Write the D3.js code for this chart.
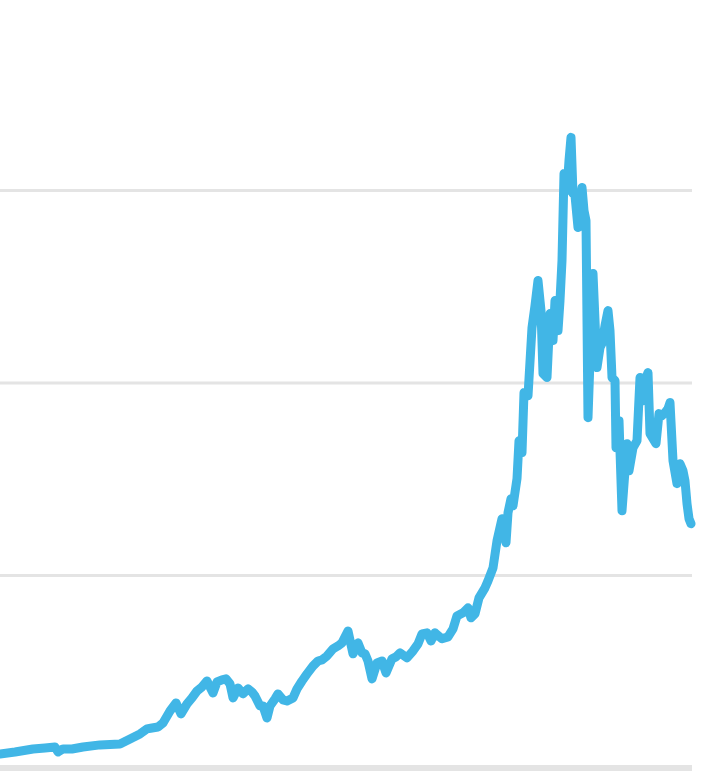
<!DOCTYPE html>
<html>
<head>
<meta charset="utf-8">
<script src="https://cdn.jsdelivr.net/npm/d3@7"></script>
<style>
  html, body { margin: 0; padding: 0; background: #ffffff; }
  svg { display: block; }
</style>
</head>
<body>
<div id="chart"></div>
<script>
// time (months from start of series)
const months = [0,7.5,16.5,22.5,27.5,29,31.5,36,41.5,50,60,65,70,73.5,76,79,81.5,85,88,90.5,93.5,96,98.5,101,103.5,106.5,108.5,111,113,115,116.5,119,121.5,124,126,127.5,130,131.5,133.5,135,137.5,139,141.5,143.5,146.5,148.5,151,153.5,156.5,159,161,163.5,166.5,169,171,174,176.5,179,181,182.5,184,186,188.5,191,193,196,198,200,203.5,206.5,209,211,213.5,215.5,217.5,221,224,226.5,228.5,231.5,234,235.5,237.5,239.5,242.5,244,246.5,248.5,251,253,254,255.5,256.5,258.5,259.5,261,262,264,266,267.5,269,270.5,271.5,273.5,275,276.5,277.5,279,280,281,282,283.5,284.5,285.5,286.5,287.5,289,290,291,292,293,294,296.5,298.5,300,301,302.5,304,305,306,307.5,308,309.5,311,312.5,313.5,314.5,316.5,318.5,320,321.5,322.5,324,325,326.5,328,329.5,331,332.5,334,335,336.5,338.5,340,341.5,342.5,343.5,344.5,345.5];
// series values
const values = [7.3,8.3,9.9,10.4,10.9,8.3,9.9,9.9,10.9,12.0,12.5,15.1,17.7,20.3,20.8,21.3,23.4,29.6,33.8,28.1,33.3,36.4,40.0,42.1,45.2,39.0,44.7,45.8,46.3,43.7,36.4,41.6,38.5,41.1,39.5,37.4,32.2,32.2,26.0,32.2,35.9,38.5,35.4,34.8,36.4,41.1,45.2,48.9,53.0,55.6,56.2,58.2,61.9,63.4,65.0,71.2,59.3,65.0,59.8,59.3,55.6,46.3,54.6,55.6,49.4,56.7,57.7,59.8,57.2,60.8,64.5,69.7,70.2,66.0,70.2,67.1,68.1,72.3,79.0,80.6,83.2,78.0,80.1,88.4,93.6,97.2,104.0,118.0,129.5,117.0,132.6,139.9,136.2,150.3,170.0,163.8,195.0,193.4,228.8,240.2,253.2,237.6,204.9,202.8,236.1,222.0,242.8,227.2,242.8,263.6,308.8,300.0,315.6,327.6,298.4,297.4,280.8,292.2,301.6,289.6,284.4,182.0,256.9,208.0,218.4,220.5,229.8,237.6,227.2,202.8,201.2,166.4,180.4,133.6,154.4,168.5,154.4,166.4,170.0,202.8,190.8,201.2,205.4,173.7,171.1,168.5,184.1,183.0,184.6,186.7,189.8,159.6,147.7,158.1,154.4,149.2,137.3,129.5,126.9];
// gridline tick values
const gridTicks = [100, 200, 300];
const baseTick = [0];

const W = 727, H = 780;
const svg = d3.select("#chart").append("svg").attr("width", W).attr("height", H);

const x = d3.scaleLinear().domain([0, 345.5]).range([0, 691]);
const y = d3.scaleLinear().domain([0, 300]).range([768, 190.5]);

svg.append("g").selectAll("line").data(gridTicks).join("line")
  .attr("x1", 0).attr("x2", 692)
  .attr("y1", d => y(d)).attr("y2", d => y(d))
  .attr("stroke", "#e4e4e4").attr("stroke-width", 3);

svg.append("g").selectAll("line").data(baseTick).join("line")
  .attr("x1", 0).attr("x2", 692)
  .attr("y1", d => y(d)).attr("y2", d => y(d))
  .attr("stroke", "#e4e4e4").attr("stroke-width", 6);

const pts = months.map((m, i) => [m, values[i]]);
const line = d3.line().x(d => x(d[0])).y(d => y(d[1]));

svg.append("path").datum(pts)
  .attr("d", line)
  .attr("fill", "none")
  .attr("stroke", "#41b6e6")
  .attr("stroke-width", 9)
  .attr("stroke-linejoin", "round")
  .attr("stroke-linecap", "round");
</script>
</body>
</html>
